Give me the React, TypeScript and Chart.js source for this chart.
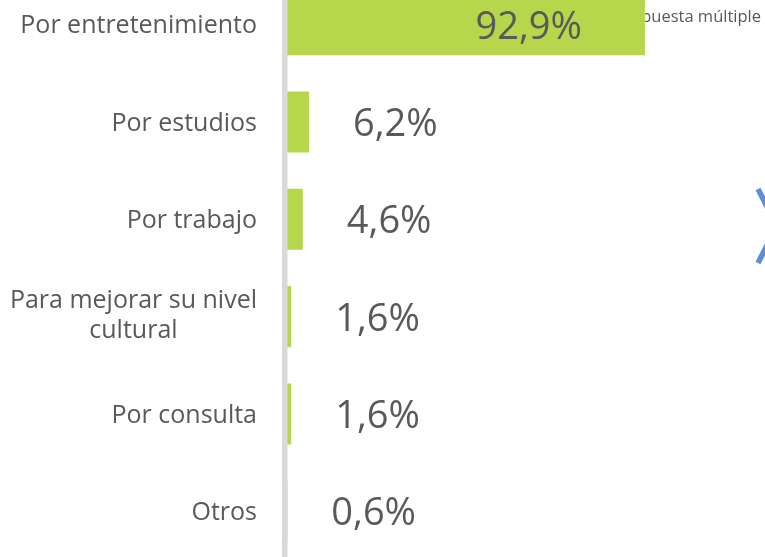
import React, { useEffect, useRef } from "react";
import { Chart, registerables } from "chart.js";

Chart.register(...registerables);

const categories: (string | string[])[] = [
  "Por entretenimiento",
  "Por estudios",
  "Por trabajo",
  ["Para mejorar su nivel", "cultural"],
  "Por consulta",
  "Otros",
];
const values: number[] = [92.9, 6.2, 4.6, 1.6, 1.6, 0.6];
const valueLabels: string[] = ["92,9%", "6,2%", "4,6%", "1,6%", "1,6%", "0,6%"];
const noteText = "Respuesta múltiple";

const FONT = "'Open Sans', 'Noto Sans', sans-serif";
const TEXT_COLOR = "#595959";
const BAR_COLOR = "#b6d64b";
const AXIS_COLOR = "#d9d9d9";
const OFFSET_TOP = -24; // canvas top relative to page

export default function App() {
  const ref = useRef<HTMLCanvasElement | null>(null);

  useEffect(() => {
    if (!ref.current) return;

    const notePlugin = {
      id: "note",
      beforeDatasetsDraw(chart: any) {
        const ctx = chart.ctx;
        ctx.save();
        ctx.font = `16.5px ${FONT}`;
        ctx.fillStyle = TEXT_COLOR;
        ctx.textAlign = "right";
        ctx.textBaseline = "alphabetic";
        ctx.fillText(noteText, 761, 22 - OFFSET_TOP);
        ctx.restore();
      },
    };

    const axisPlugin = {
      id: "axisLine",
      afterDatasetsDraw(chart: any) {
        const ctx = chart.ctx;
        const left = chart.chartArea.left;
        ctx.save();
        ctx.fillStyle = AXIS_COLOR;
        ctx.fillRect(left - 3, 0, 5.5, chart.height);
        ctx.restore();
      },
    };

    const labelsPlugin = {
      id: "labels",
      afterDraw(chart: any) {
        const ctx = chart.ctx;
        const yScale = chart.scales.y;
        const left = chart.chartArea.left;
        ctx.save();
        // category labels
        ctx.font = `25px ${FONT}`;
        ctx.fillStyle = TEXT_COLOR;
        ctx.textBaseline = "alphabetic";
        ctx.textAlign = "center";
        categories.forEach((cat, i) => {
          const lines = Array.isArray(cat) ? cat : [cat];
          const cy = yScale.getPixelForValue(i);
          const right = left - 28;
          const widths = lines.map((l) => ctx.measureText(l).width);
          const blockW = Math.max(...widths);
          const center = right - blockW / 2;
          const n = lines.length;
          const base = n > 1 ? 6.5 : 8.5;
          lines.forEach((l, j) => {
            const x = n > 1 ? center : right - widths[j] / 2;
            ctx.fillText(l, x, cy + base + (j - (n - 1) / 2) * 30);
          });
        });
        // value labels
        const meta = chart.getDatasetMeta(0);
        ctx.font = `38px ${FONT}`;
        meta.data.forEach((bar: any, i: number) => {
          const v = values[i];
          if (v > 50) {
            ctx.textAlign = "right";
            ctx.fillText(valueLabels[i], bar.x - 63, bar.y + 14);
          } else {
            ctx.textAlign = "left";
            ctx.fillText(valueLabels[i], bar.x + 44, bar.y + 14);
          }
        });
        // decorative chevron
        ctx.strokeStyle = "#5b8fd9";
        ctx.lineWidth = 5.5;
        ctx.beginPath();
        ctx.moveTo(758, 189 - OFFSET_TOP);
        ctx.lineTo(777, 226 - OFFSET_TOP);
        ctx.lineTo(758, 263 - OFFSET_TOP);
        ctx.stroke();
        ctx.restore();
      },
    };

    const chart = new Chart(ref.current, {
      type: "bar",
      data: {
        labels: categories as any,
        datasets: [
          {
            data: values,
            backgroundColor: BAR_COLOR,
            borderWidth: 0,
            barPercentage: 0.627,
            categoryPercentage: 1,
          },
        ],
      },
      options: {
        indexAxis: "y",
        responsive: false,
        animation: false,
        devicePixelRatio: 1,
        layout: { padding: 0 },
        plugins: {
          legend: { display: false },
          tooltip: { enabled: false },
          title: { display: false },
        },
        scales: {
          x: {
            display: false,
            min: 0,
            max: 123.9,
          },
          y: {
            grid: { display: false },
            border: { display: false },
            ticks: { display: false },
            afterFit(scale: any) {
              scale.width = 285;
            },
          },
        },
      },
      plugins: [notePlugin, axisPlugin, labelsPlugin],
    });

    return () => chart.destroy();
  }, []);

  return (
    <div
      style={{
        position: "fixed",
        top: 0,
        left: 0,
        width: 765,
        height: 557,
        overflow: "hidden",
        background: "#ffffff",
      }}
    >
      <canvas
        ref={ref}
        width={765}
        height={584}
        style={{ position: "absolute", top: OFFSET_TOP, left: 0, width: 765, height: 584 }}
      />
    </div>
  );
}
